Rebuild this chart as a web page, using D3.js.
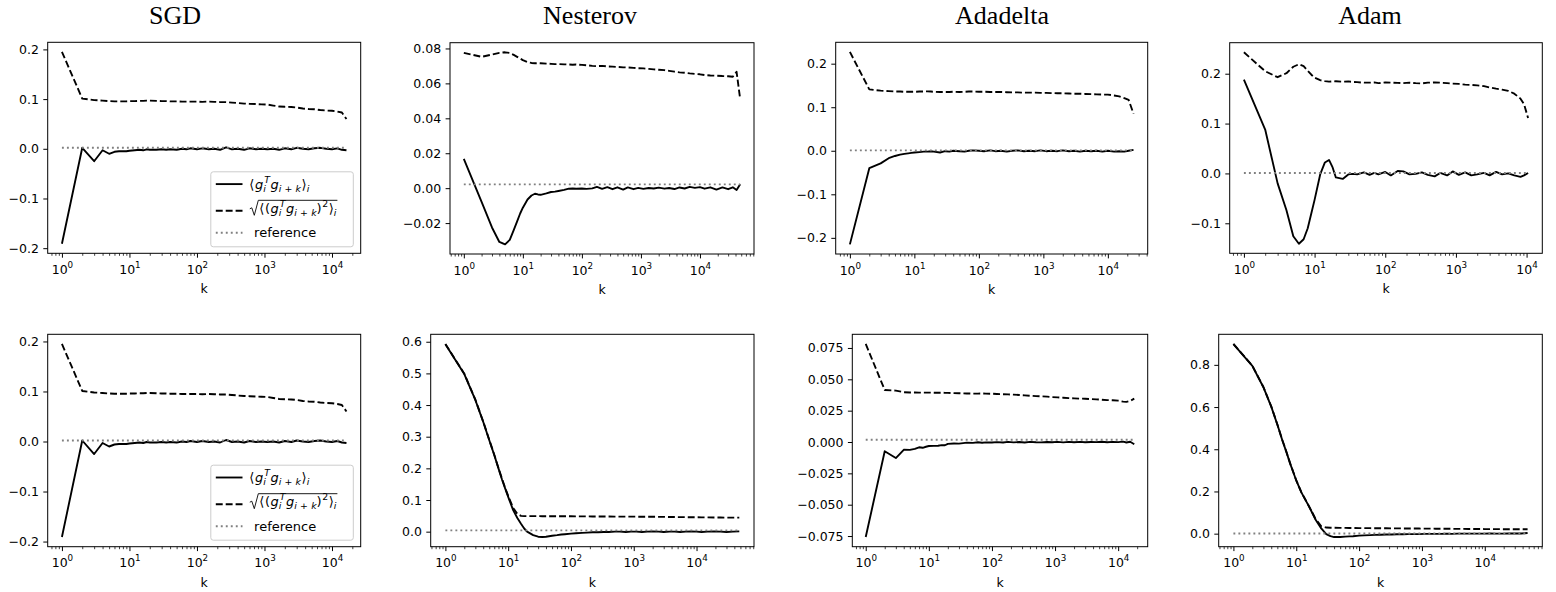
<!doctype html>
<html>
<head>
<meta charset="utf-8">
<script src="https://d3js.org/d3.v7.min.js"></script>
<style>
  body { margin: 0; background: #fff; }
  text { font-family: "DejaVu Sans", sans-serif; fill: #000; }
  .title { font-family: "Liberation Serif", "Times New Roman", serif; }
</style>
</head>
<body>
<div id="chart"></div>
<script>

// ---- data ----
var titles = ["SGD", "Nesterov", "Adadelta", "Adam"];
var xTickValues = [1, 10, 100, 1000, 10000];

// lag values k shared by every panel, each panel then runs to its own last lag
var lagsHead = [1, 2, 3, 4, 5, 6, 7, 8, 9, 10, 12, 14, 16, 18, 20, 25, 30, 35, 40, 50,
    60, 70, 80, 100, 120, 150, 180, 220, 270, 330, 400, 500, 600, 750, 900, 1100,
    1350, 1650, 2000, 2500, 3000, 3700, 4500, 5500, 6700, 8200, 10000];

var kSGD = lagsHead.concat([12000, 14000, 16384]);
var kNesterov = lagsHead.concat([12000, 15000, 19000, 24000, 30000, 36000, 41700, 48000]);
var kAdadelta = lagsHead.concat([12500, 15000, 18000, 21000, 25000]);
var kAdam = lagsHead.slice(0, 46).concat([9200, 10500]);
var kNesterov2 = lagsHead.concat([12000, 15000, 19000, 24000, 30000, 38000, 48000]);
var kAdadelta2 = lagsHead.concat([12000, 13500, 15500, 18000]);
var kAdam2 = lagsHead.concat([12000, 15000, 19000, 24000, 30000, 38000, 48000]);

var sgdMean = [-0.191, 0.002, -0.025, -0.003, -0.010, -0.006, -0.005, -0.005, -0.005, -0.004,
    -0.003, -0.002, -0.003, -0.001, -0.002, -0.002, -0.001, -0.002, -0.001, -0.002,
    0.000, -0.001, 0.001, -0.001, 0.001, -0.001, 0.000, -0.002, 0.003, -0.001,
    0.000, -0.002, 0.001, -0.001, 0.000, -0.001, 0.000, -0.002, 0.001, -0.001,
    0.002, 0.000, -0.001, 0.001, 0.002, 0.000, -0.001, 0.001, -0.002, -0.003];
var sgdRms = [0.195, 0.101, 0.098, 0.097, 0.096, 0.0955, 0.0955, 0.0955, 0.0955, 0.096,
    0.096, 0.0965, 0.0965, 0.097, 0.097, 0.0965, 0.096, 0.096, 0.0955, 0.0955,
    0.095, 0.095, 0.095, 0.095, 0.0945, 0.095, 0.0945, 0.094, 0.094, 0.093,
    0.092, 0.091, 0.0905, 0.090, 0.0895, 0.089, 0.087, 0.085, 0.0845, 0.084,
    0.083, 0.081, 0.080, 0.0795, 0.078, 0.077, 0.0765, 0.075, 0.073, 0.060];

var nesterovMean = [0.0168, -0.0078, -0.0225, -0.0308, -0.0322, -0.0296, -0.0240, -0.0190, -0.0145, -0.0112,
    -0.0065, -0.0042, -0.0032, -0.0036, -0.0038, -0.0030, -0.0022, -0.0020, -0.0016, -0.0010,
    -0.0003, -0.0002, -0.0003, -0.0002, -0.0004, -0.0001, 0.0008, -0.0004, 0.0006, -0.0006,
    0.0005, -0.0008, 0.0004, -0.0006, 0.0002, -0.0004, 0.0001, -0.0002, 0.0003, -0.0003,
    0.0001, -0.0005, 0.0004, -0.0002, 0.0007, 0.0002, 0.0006, -0.0003, 0.0005, -0.0008,
    0.0004, -0.0006, 0.0005, -0.0010, 0.0022];
var nesterovRms = [0.0775, 0.0752, 0.0765, 0.0775, 0.0778, 0.0774, 0.0763, 0.0752, 0.0742, 0.0733,
    0.0722, 0.0717, 0.0715, 0.0716, 0.0715, 0.0713, 0.0712, 0.0710, 0.0711, 0.0709,
    0.0708, 0.0707, 0.0708, 0.0706, 0.0704, 0.0700, 0.0699, 0.0700, 0.0697, 0.0696,
    0.0694, 0.0692, 0.0691, 0.0689, 0.0687, 0.0686, 0.0683, 0.0680, 0.0678, 0.0676,
    0.0672, 0.0667, 0.0663, 0.0661, 0.0657, 0.0654, 0.0652, 0.0648, 0.0645, 0.0644,
    0.0642, 0.0641, 0.0638, 0.0666, 0.0510];

var adadeltaMean = [-0.215, -0.040, -0.029, -0.017, -0.012, -0.009, -0.007, -0.006, -0.005, -0.004,
    -0.003, -0.002, -0.002, -0.001, -0.002, -0.004, -0.001, -0.002, 0.000, -0.001,
    -0.002, 0.000, 0.001, 0.000, -0.001, 0.001, -0.001, 0.000, -0.002, 0.000,
    0.001, -0.001, 0.000, -0.001, 0.001, -0.001, 0.000, -0.001, 0.001, -0.001,
    0.000, -0.002, 0.000, -0.001, 0.000, -0.002, 0.000, -0.002, -0.001, -0.002,
    0.000, 0.002];
var adadeltaRms = [0.227, 0.141, 0.138, 0.137, 0.136, 0.136, 0.1355, 0.1355, 0.1355, 0.1355,
    0.136, 0.136, 0.1365, 0.136, 0.1355, 0.135, 0.135, 0.135, 0.1355, 0.135,
    0.1355, 0.136, 0.136, 0.1355, 0.1355, 0.135, 0.135, 0.135, 0.1345, 0.134,
    0.134, 0.1335, 0.1335, 0.1335, 0.133, 0.133, 0.1325, 0.132, 0.132, 0.1315,
    0.131, 0.131, 0.1305, 0.130, 0.1295, 0.129, 0.129, 0.127, 0.125, 0.121,
    0.117, 0.085];

var adamMean = [0.188, 0.088, -0.020, -0.074, -0.126, -0.141, -0.132, -0.110, -0.080, -0.053,
    -0.002, 0.022, 0.027, 0.012, -0.008, -0.011, -0.002, -0.001, -0.002, 0.002,
    -0.003, 0.001, -0.002, 0.003, -0.004, 0.005, 0.004, -0.002, -0.001, 0.002,
    -0.003, -0.006, 0.001, -0.004, 0.004, -0.003, 0.002, -0.004, -0.002, 0.001,
    -0.004, 0.003, -0.002, 0.000, -0.004, -0.007, -0.004, 0.001];
var adamRms = [0.243, 0.205, 0.193, 0.201, 0.214, 0.219, 0.215, 0.206, 0.198, 0.192,
    0.187, 0.185, 0.184, 0.1845, 0.185, 0.184, 0.1845, 0.1835, 0.183, 0.182,
    0.182, 0.1825, 0.181, 0.1825, 0.182, 0.1815, 0.181, 0.182, 0.181, 0.1805,
    0.182, 0.1825, 0.182, 0.181, 0.180, 0.1795, 0.178, 0.1775, 0.1765, 0.175,
    0.1725, 0.170, 0.168, 0.1655, 0.160, 0.150, 0.139, 0.111];

var nesterov2Mean = [0.592, 0.498, 0.416, 0.347, 0.289, 0.242, 0.200, 0.164, 0.135, 0.110,
    0.068, 0.043, 0.025, 0.010, 0.000, -0.011, -0.016, -0.017, -0.016, -0.013,
    -0.011, -0.009, -0.008, -0.006, -0.005, -0.004, -0.003, -0.002, -0.002, -0.001,
    -0.001, 0.000, 0.000, -0.001, 0.000, 0.000, -0.001, 0.000, 0.001, 0.000,
    -0.001, 0.000, 0.000, -0.001, 0.000, 0.001, 0.000, -0.001, 0.000, 0.001,
    0.000, -0.001, 0.000, 0.001];
var nesterov2Rms = [0.593, 0.499, 0.417, 0.348, 0.290, 0.243, 0.201, 0.166, 0.137, 0.113,
    0.075, 0.056, 0.050, 0.049, 0.049, 0.049, 0.049, 0.0488, 0.0488, 0.0487,
    0.0486, 0.0486, 0.0485, 0.0485, 0.0484, 0.0483, 0.0482, 0.0481, 0.0480, 0.0479,
    0.0478, 0.0477, 0.0476, 0.0475, 0.0474, 0.0473, 0.0472, 0.0471, 0.0470, 0.0468,
    0.0466, 0.0464, 0.0462, 0.0460, 0.0458, 0.0456, 0.0454, 0.0452, 0.0450, 0.0448,
    0.0446, 0.0444, 0.0442, 0.0445];

var adadelta2Mean = [-0.0758, -0.0074, -0.0128, -0.0062, -0.0063, -0.0055, -0.0042, -0.0046, -0.0038, -0.0032,
    -0.0031, -0.0030, -0.0025, -0.0026, -0.0015, -0.0012, -0.0013, -0.0009, -0.0005, -0.0007,
    -0.0002, -0.0006, -0.0003, -0.0004, -0.0001, -0.0004, 0.0001, -0.0003, 0.0000, -0.0004,
    0.0001, -0.0002, -0.0003, 0.0000, -0.0002, 0.0001, -0.0003, 0.0001, -0.0002, 0.0001,
    -0.0002, 0.0000, -0.0001, 0.0002, -0.0002, 0.0001, -0.0001, 0.0003, -0.0004, 0.0002,
    -0.0018];
var adadelta2Rms = [0.0782, 0.0415, 0.0410, 0.0397, 0.0395, 0.0395, 0.0394, 0.0394, 0.0394, 0.0394,
    0.0393, 0.0393, 0.0393, 0.0392, 0.0392, 0.0390, 0.0389, 0.0388, 0.0387, 0.0386,
    0.0386, 0.0387, 0.0386, 0.0385, 0.0383, 0.0381, 0.0380, 0.0378, 0.0375, 0.0372,
    0.0369, 0.0366, 0.0364, 0.0362, 0.0358, 0.0356, 0.0353, 0.0350, 0.0348, 0.0346,
    0.0345, 0.0342, 0.0340, 0.0337, 0.0334, 0.0333, 0.0330, 0.0322, 0.0320, 0.0328,
    0.0346];

var adam2Mean = [0.898, 0.795, 0.694, 0.602, 0.517, 0.443, 0.385, 0.332, 0.290, 0.252,
    0.197, 0.160, 0.128, 0.098, 0.070, 0.025, -0.002, -0.012, -0.016, -0.016,
    -0.014, -0.013, -0.012, -0.0095, -0.008, -0.007, -0.006, -0.005, -0.004, -0.004,
    -0.003, -0.003, -0.002, -0.002, -0.002, -0.001, -0.001, -0.001, -0.001, 0.000,
    -0.001, 0.000, 0.000, 0.000, 0.000, 0.000, 0.000, 0.001, 0.000, 0.000,
    0.001, 0.001, 0.001, 0.003];
var adam2Rms = [0.899, 0.796, 0.695, 0.603, 0.518, 0.444, 0.386, 0.333, 0.291, 0.253,
    0.198, 0.161, 0.129, 0.100, 0.073, 0.035, 0.029, 0.028, 0.0278, 0.0275,
    0.0272, 0.0270, 0.0268, 0.0265, 0.0263, 0.0260, 0.0258, 0.0256, 0.0254, 0.0252,
    0.0250, 0.0248, 0.0246, 0.0244, 0.0242, 0.0240, 0.0238, 0.0236, 0.0234, 0.0232,
    0.0230, 0.0228, 0.0226, 0.0224, 0.0222, 0.0220, 0.0218, 0.0216, 0.0214, 0.0212,
    0.0210, 0.0210, 0.0208, 0.0210];

// horizontal "reference" level of each panel
var refLevels = [0.002, 0.0022, 0.001, 0.0008, 0.002, 0.004, 0.0018, 0.001];

// y tick labels per panel
var yTicksA = [-0.2, -0.1, 0.0, 0.1, 0.2];
var yTicksNesterov = [-0.02, 0.00, 0.02, 0.04, 0.06, 0.08];
var yTicksAdam = [-0.1, 0.0, 0.1, 0.2];
var yTicksNesterov2 = [0.0, 0.1, 0.2, 0.3, 0.4, 0.5, 0.6];
var yTicksAdadelta2 = [-0.075, -0.050, -0.025, 0.000, 0.025, 0.050, 0.075];
var yTicksAdam2 = [0.0, 0.2, 0.4, 0.6, 0.8];

// ---- layout (pixel boxes of the axes) ----
var boxes = [
    [47.7, 42.3, 360.7, 253.3], [450, 42.7, 754, 254], [835.7, 42.3, 1147.7, 254], [1229.7, 42.7, 1542.3, 253.3],
    [47.7, 334.3, 360.7, 546.7], [430.7, 334.3, 754, 546.7], [852.3, 334.3, 1147.7, 546.7], [1218.7, 334.3, 1542.3, 546.7]
];
var titleX = [175, 590, 1002, 1370];

var panels = [
    {k: kSGD, mean: sgdMean, rms: sgdRms, ticks: yTicksA, fmt: ".1f", legend: true},
    {k: kNesterov, mean: nesterovMean, rms: nesterovRms, ticks: yTicksNesterov, fmt: ".2f"},
    {k: kAdadelta, mean: adadeltaMean, rms: adadeltaRms, ticks: yTicksA, fmt: ".1f"},
    {k: kAdam, mean: adamMean, rms: adamRms, ticks: yTicksAdam, fmt: ".1f"},
    {k: kSGD, mean: sgdMean, rms: sgdRms, ticks: yTicksA, fmt: ".1f", legend: true},
    {k: kNesterov2, mean: nesterov2Mean, rms: nesterov2Rms, ticks: yTicksNesterov2, fmt: ".1f"},
    {k: kAdadelta2, mean: adadelta2Mean, rms: adadelta2Rms, ticks: yTicksAdadelta2, fmt: ".3f"},
    {k: kAdam2, mean: adam2Mean, rms: adam2Rms, ticks: yTicksAdam2, fmt: ".1f"}
];

var W = 1556, H = 592;
var FS = 12.5;          // tick font size
var LFS = 13;           // legend font size
var LW = 1.875;         // line width
var svg = d3.select("#chart").append("svg")
    .attr("width", W)
    .attr("height", H);

// titles
titles.forEach(function(t, i) {
    svg.append("text")
        .attr("class", "title")
        .attr("x", titleX[i])
        .attr("y", 23.5)
        .attr("text-anchor", "middle")
        .attr("font-size", 26)
        .text(t);
});

panels.forEach(function(p, i) {
    var b = boxes[i];
    var g = svg.append("g");

    // log x with 5% margins like matplotlib
    var L = Math.log10(d3.max(p.k));
    var x = d3.scaleLog()
        .domain([Math.pow(10, -0.05 * L), Math.pow(10, 1.05 * L)])
        .range([b[0], b[2]]);
    var ext = d3.extent(p.mean.concat(p.rms, [refLevels[i]]));
    var pad = 0.05 * (ext[1] - ext[0]);
    var y = d3.scaleLinear()
        .domain([ext[0] - pad, ext[1] + pad])
        .range([b[3], b[1]]);

    var meanPts = p.k.map(function(k, j) { return [k, p.mean[j]]; });
    var rmsPts = p.k.map(function(k, j) { return [k, p.rms[j]]; });
    var refPts = [[1, refLevels[i]], [d3.max(p.k), refLevels[i]]];

    var line = d3.line()
        .x(function(d) { return x(d[0]); })
        .y(function(d) { return y(d[1]); });

    g.append("path").attr("d", line(meanPts))
        .attr("fill", "none").attr("stroke", "#000").attr("stroke-width", LW)
        .attr("stroke-linejoin", "round");
    g.append("path").attr("d", line(rmsPts))
        .attr("fill", "none").attr("stroke", "#000").attr("stroke-width", LW)
        .attr("stroke-dasharray", "6.9,3").attr("stroke-linejoin", "round");
    g.append("path").attr("d", line(refPts))
        .attr("fill", "none").attr("stroke", "gray").attr("stroke-width", LW)
        .attr("stroke-dasharray", "1.9,3.1");

    // frame
    g.append("rect")
        .attr("x", b[0]).attr("y", b[1])
        .attr("width", b[2] - b[0]).attr("height", b[3] - b[1])
        .attr("fill", "none").attr("stroke", "#000").attr("stroke-width", 1);

    // y axis
    var yAx = g.append("g")
        .attr("transform", "translate(" + b[0] + ",0)")
        .call(d3.axisLeft(y).tickValues(p.ticks).tickFormat(d3.format(p.fmt))
            .tickSizeInner(4.4).tickSizeOuter(0).tickPadding(4.4));
    yAx.select(".domain").remove();
    yAx.selectAll("text").attr("font-size", FS).attr("font-family", "DejaVu Sans");
    yAx.selectAll("line").attr("stroke-width", 1);

    // minor x ticks at 2..9 x 10^n
    var minor = [];
    for (var e = -1; e <= 5; e++) {
        for (var m = 2; m <= 9; m++) {
            var v = m * Math.pow(10, e);
            if (v >= x.domain()[0] && v <= x.domain()[1]) minor.push(v);
        }
    }
    var xMin = g.append("g")
        .attr("transform", "translate(0," + b[3] + ")")
        .call(d3.axisBottom(x).tickValues(minor).tickFormat("").tickSizeInner(2.5).tickSizeOuter(0));
    xMin.select(".domain").remove();
    xMin.selectAll("line").attr("stroke-width", 0.75);

    var xAx = g.append("g")
        .attr("transform", "translate(0," + b[3] + ")")
        .call(d3.axisBottom(x).tickValues(xTickValues).tickSizeInner(4.4).tickSizeOuter(0));
    xAx.select(".domain").remove();
    xAx.selectAll("line").attr("stroke-width", 1);
    xAx.selectAll("text").each(function(d) {
        var t = d3.select(this);
        t.text(null).attr("y", 20.7).attr("dy", null)
            .attr("font-size", FS).attr("font-family", "DejaVu Sans");
        t.append("tspan").text("10");
        t.append("tspan").attr("dy", -6).attr("font-size", 8.75)
            .text(Math.round(Math.log10(d)));
    });

    // x label
    g.append("text")
        .attr("x", (b[0] + b[2]) / 2)
        .attr("y", b[3] + 40)
        .attr("text-anchor", "middle")
        .attr("font-size", FS)
        .text("k");

    if (p.legend) drawLegend(g, b);
});

// small helper to set mathtext-like pieces one after another
function addPiece(g, x, y, p) {
    var t = g.append("text")
        .attr("x", x)
        .attr("y", y + (p.dy || 0))
        .attr("font-size", LFS * (p.sz || 1))
        .attr("font-style", p.it ? "italic" : "normal")
        .text(p.t);
    return t.node().getComputedTextLength() + (p.sp || 0);
}
function appendMath(g, x, y, pieces) {
    var cx = x;
    pieces.forEach(function(p) {
        if (p.pre) cx += p.pre;
        if (p.stack) {
            var w = 0;
            p.stack.forEach(function(s) { w = Math.max(w, addPiece(g, cx + (s.ox || 0), y, s) + (s.ox || 0)); });
            cx += w;
        } else {
            cx += addPiece(g, cx, y, p);
        }
    });
    return cx;
}

function drawLegend(g, b) {
    var lw = 142.5, lh = 75;
    var lx = b[2] - 7.4 - lw, ly = b[3] - 6.5 - lh;
    g.append("rect")
        .attr("x", lx).attr("y", ly).attr("width", lw).attr("height", lh)
        .attr("rx", 2.5)
        .attr("fill", "#fff").attr("fill-opacity", 0.8)
        .attr("stroke", "#cccccc").attr("stroke-width", 1);

    var rows = [12.3, 39, 61];
    var styles = [null, "6.9,3", "1.9,3.1"];
    var colors = ["#000", "#000", "gray"];
    rows.forEach(function(r, j) {
        var s = g.append("line")
            .attr("x1", lx + 5).attr("x2", lx + 31.7)
            .attr("y1", ly + r).attr("y2", ly + r)
            .attr("stroke", colors[j]).attr("stroke-width", LW);
        if (styles[j]) s.attr("stroke-dasharray", styles[j]);
    });

    var mx = lx + 38.5;
    var sub = 0.72;
    var gij = [
        {t: "g", it: true, pre: 0.5},
        {stack: [{t: "T", it: true, sz: sub, dy: -5.8, ox: 1}, {t: "i", it: true, sz: sub, dy: 3.2}]},
        {t: "g", it: true, pre: 0.6},
        {t: "i", it: true, sz: sub, dy: 3.2},
        {t: "+", sz: sub, dy: 3.2, pre: 3.2, sp: 3.2},
        {t: "k", it: true, sz: sub, dy: 3.2}
    ];
    // row 1: <g_i^T g_{i+k}>_i
    appendMath(g, mx, ly + rows[0] + 4.4,
        [{t: "\u27E8"}].concat(gij, [{t: "\u27E9", pre: 0.6}, {t: "i", it: true, sz: sub, dy: 3.2}]));

    // row 2: sqrt(<(g_i^T g_{i+k})^2>_i)
    var base = ly + rows[1] + 2;
    var startX = mx + 10;
    var endX = appendMath(g, startX, base,
        [{t: "\u27E8"}, {t: "(", pre: 0.5}].concat(gij, [{t: ")"}, {t: "2", sz: sub, dy: -5.8, pre: 0.5},
            {t: "\u27E9", pre: 0.6}, {t: "i", it: true, sz: sub, dy: 3.2}]));
    var topY = ly + rows[1] - 10.5;
    g.append("path")
        .attr("d", "M" + (mx + 0.5) + "," + (base - 4) +
            " L" + (mx + 2.5) + "," + (base - 5) +
            " L" + (mx + 5) + "," + (base + 2.5) +
            " L" + (mx + 9) + "," + topY +
            " L" + (endX + 1) + "," + topY)
        .attr("fill", "none").attr("stroke", "#000").attr("stroke-width", 0.9);

    // row 3
    g.append("text")
        .attr("x", lx + 43.3).attr("y", ly + rows[2] + 4.5)
        .attr("font-size", LFS)
        .text("reference");
}

</script>
</body>
</html>
